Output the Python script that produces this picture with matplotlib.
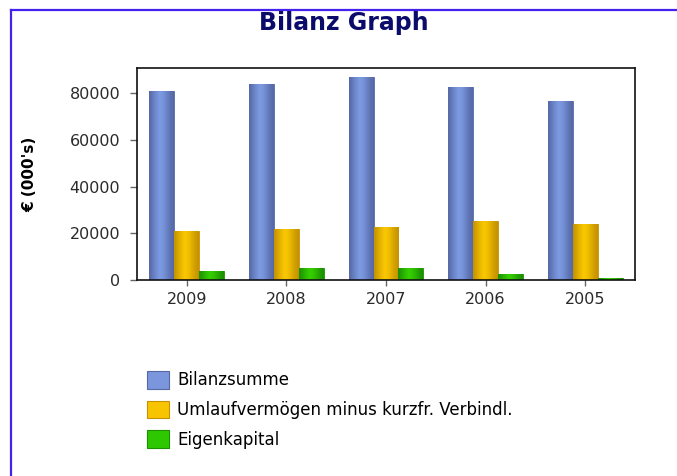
import numpy as np
import matplotlib
matplotlib.use("Agg")
import matplotlib.pyplot as plt
from matplotlib.patches import Patch
from matplotlib.lines import Line2D
from matplotlib.colors import LinearSegmentedColormap

years = ["2009", "2008", "2007", "2006", "2005"]
bilanzsumme = [81000, 84000, 87000, 82500, 76800]
umlauf = [21000, 21800, 22500, 25400, 24000]
eigenkapital = [3800, 5200, 5200, 2400, 900]

series_names = ["Bilanzsumme", "Umlaufvermögen minus kurzfr. Verbindl.", "Eigenkapital"]
# (edge shade, centre shade, legend colour)
shades = [
    ("#5668a6", "#7d9be3", "#7b96dd"),
    ("#c49200", "#fac800", "#f8c400"),
    ("#1c9000", "#35cf00", "#2ec800"),
]

plt.rcParams["font.family"] = "DejaVu Sans"

fig = plt.figure(figsize=(6.77, 4.76), dpi=100)
ax = fig.add_axes([137 / 677, 1 - 280 / 476, 498 / 677, 212 / 476])

x = np.arange(len(years))
width = 0.25
offsets = [-width, 0, width]
knots = [0.0, 0.35, 0.7, 1.0, 0.85, 0.55, 0.2, 0.0]
profile = np.interp(np.linspace(0, 7, 64), np.arange(8), knots)[None, :]

for vals, off, (dark, light, flat), name in zip(
        [bilanzsumme, umlauf, eigenkapital], offsets, shades, series_names):
    bars = ax.bar(x + off, vals, width, color=flat, edgecolor=dark,
                  linewidth=0.6, label=name, zorder=2)
    cmap = LinearSegmentedColormap.from_list("g", [dark, light])
    for b in bars:
        x0, y0 = b.get_x(), b.get_y()
        im = ax.imshow(profile, cmap=cmap, aspect="auto", zorder=2.5,
                       extent=(x0, x0 + b.get_width(), y0, y0 + b.get_height()),
                       interpolation="bilinear")
        im.set_clip_path(b)

ax.set_xlim(-0.5, len(years) - 0.5)
ax.set_ylim(0, 90800)
ax.set_xticks(x)
ax.set_xticklabels(years)
ax.set_yticks([0, 20000, 40000, 60000, 80000])
ax.tick_params(axis="both", direction="out", width=1, color="#666666",
               labelsize=11.5, labelcolor="#2a2a2a")
ax.tick_params(axis="y", length=5, pad=7)
ax.tick_params(axis="x", length=4.3, pad=4)
for s in ax.spines.values():
    s.set_linewidth(1.2)
    s.set_color("#111111")

ax.set_ylabel("€ (000's)", fontsize=11, fontweight="bold")
ax.yaxis.set_label_coords((37 - 137) / 498, 0.5)

fig.text(344 / 677, 1 - 23 / 476, "Bilanz Graph", ha="center", va="center",
         fontsize=17, fontweight="bold", color="#0b0b6b")

handles = [Patch(facecolor=c[2], edgecolor=c[0], linewidth=0.8) for c in shades]
fig.legend(handles, series_names, loc="upper left",
           bbox_to_anchor=(147 / 677, 1 - 371 / 476), frameon=False,
           fontsize=12, handlelength=1.3, handleheight=1.25,
           handletextpad=0.5, labelspacing=0.67, borderpad=0, borderaxespad=0)

# blue frame on the left and top
fig.add_artist(Line2D([10.5 / 677, 10.5 / 677], [0, 1 - 10 / 476],
                      transform=fig.transFigure, color="#4422ee", linewidth=1.6))
fig.add_artist(Line2D([10.5 / 677, 1], [1 - 10 / 476, 1 - 10 / 476],
                      transform=fig.transFigure, color="#4422ee", linewidth=1.6))

fig.savefig("out.png", dpi=100)
